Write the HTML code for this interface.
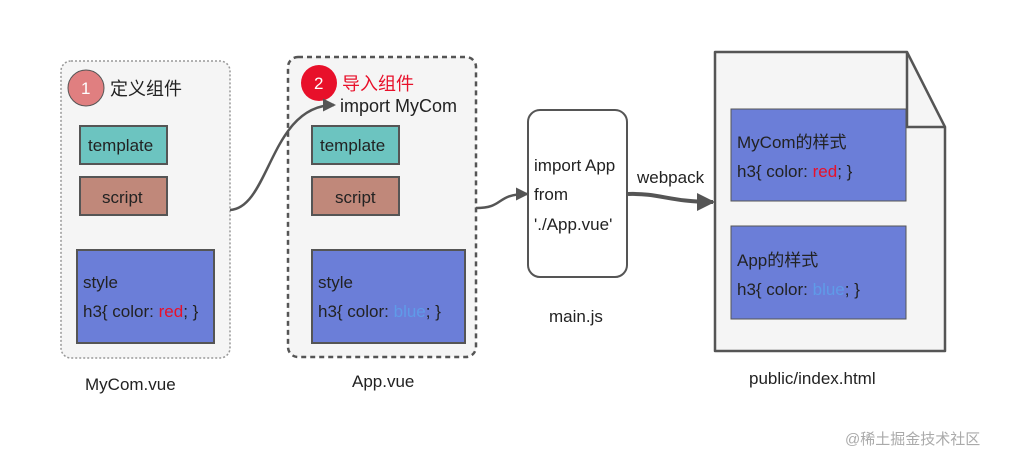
<!DOCTYPE html>
<html><head><meta charset="utf-8"><style>
body{margin:0;background:#fff;}
svg text{font-family:"Liberation Sans","Noto Sans CJK SC",sans-serif;font-size:17px;fill:#222;}
</style></head><body>
<svg width="1021" height="465" viewBox="0 0 1021 465" xmlns="http://www.w3.org/2000/svg">
<defs><marker id="ah" markerWidth="13" markerHeight="13" refX="11" refY="6.5" orient="auto" markerUnits="userSpaceOnUse"><path d="M0,0 L13,6.5 L0,13 z" fill="#555"/></marker>
<marker id="ah2" markerWidth="18" markerHeight="18" refX="16" refY="9" orient="auto" markerUnits="userSpaceOnUse"><path d="M0,0 L18,9 L0,18 z" fill="#555"/></marker></defs>
<rect x="61" y="61" width="169" height="297" rx="10" fill="#f5f5f5" stroke="#999" stroke-width="1.5" stroke-dasharray="2,2"/>
<circle cx="86" cy="88" r="18" fill="#e07f80" stroke="#555" stroke-width="1"/>
<text x="81" y="94" style="fill:#fff">1</text>
<text x="110" y="95" style="font-size:18px">定义组件</text>
<rect x="80" y="126" width="87" height="38" fill="#6cc4c0" stroke="#555" stroke-width="2"/>
<text x="88" y="151">template</text>
<rect x="80" y="177" width="87" height="38" fill="#c0887a" stroke="#555" stroke-width="2"/>
<text x="102" y="203">script</text>
<rect x="77" y="250" width="137" height="93" fill="#6b7ed8" stroke="#555" stroke-width="2"/>
<text x="83" y="288">style</text>
<text x="83" y="317">h3{ color: <tspan style="fill:#e8102a">red</tspan>; }</text>

<rect x="288" y="57" width="188" height="300" rx="10" fill="#f5f5f5" stroke="#555" stroke-width="2.5" stroke-dasharray="5,4"/>
<circle cx="319" cy="83" r="18" fill="#e8102a"/>
<text x="314" y="89" style="fill:#fff">2</text>
<text x="342" y="90" style="font-size:18px;fill:#e8102a">导入组件</text>
<text x="340" y="112" style="font-size:18px">import MyCom</text>
<rect x="312" y="126" width="87" height="38" fill="#6cc4c0" stroke="#555" stroke-width="2"/>
<text x="320" y="151">template</text>
<rect x="312" y="177" width="87" height="38" fill="#c0887a" stroke="#555" stroke-width="2"/>
<text x="335" y="203">script</text>
<rect x="312" y="250" width="153" height="93" fill="#6b7ed8" stroke="#555" stroke-width="2"/>
<text x="318" y="288">style</text>
<text x="318" y="317">h3{ color: <tspan style="fill:#5f9be8">blue</tspan>; }</text>

<path d="M230,210 C270,208 270,105 334,105" fill="none" stroke="#555" stroke-width="2.5" marker-end="url(#ah)"/>
<path d="M476,208 C505,208 495,194 527,194" fill="none" stroke="#555" stroke-width="2.5" marker-end="url(#ah)"/>

<rect x="528" y="110" width="99" height="167" rx="12" fill="#fff" stroke="#555" stroke-width="2"/>
<text x="534" y="171">import App</text>
<text x="534" y="200">from</text>
<text x="534" y="230">'./App.vue'</text>
<text x="549" y="322">main.js</text>
<text x="637" y="183">webpack</text>
<path d="M628,194 C660,193 670,202 713,202" fill="none" stroke="#555" stroke-width="4" marker-end="url(#ah2)"/>

<path d="M715,52 L907,52 L945,127 L945,351 L715,351 Z" fill="#f5f5f5" stroke="#555" stroke-width="2.5" stroke-linejoin="round"/>
<path d="M907,52 L907,127 L945,127" fill="none" stroke="#555" stroke-width="2.5"/>
<rect x="731" y="109" width="175" height="92" fill="#6b7ed8" stroke="#555" stroke-width="1"/>
<text x="737" y="148">MyCom的样式</text>
<text x="737" y="177">h3{ color: <tspan style="fill:#e8102a">red</tspan>; }</text>
<rect x="731" y="226" width="175" height="93" fill="#6b7ed8" stroke="#555" stroke-width="1"/>
<text x="737" y="266">App的样式</text>
<text x="737" y="295">h3{ color: <tspan style="fill:#5f9be8">blue</tspan>; }</text>

<text x="85" y="390">MyCom.vue</text>
<text x="352" y="387">App.vue</text>
<text x="749" y="384">public/index.html</text>
<text x="845" y="444" style="font-size:15px;fill:#aaa">@稀土掘金技术社区</text>
</svg>
</body></html>
